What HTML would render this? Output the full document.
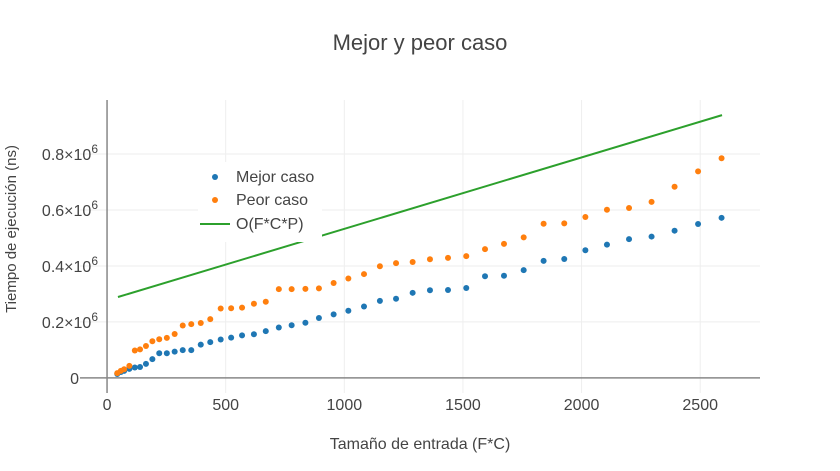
<!DOCTYPE html>
<html><head><meta charset="utf-8"><style>
body{margin:0;background:#fff;}
svg{display:block;font-family:"Liberation Sans",sans-serif;}
</style></head><body>
<svg id="chart" width="840" height="471" xmlns="http://www.w3.org/2000/svg">
<rect width="840" height="471" fill="#fff"/>
<text x="420" y="50" text-anchor="middle" font-size="22" fill="#444">Mejor y peor caso</text>
<g id="grid"></g>
<g id="axes"></g>
<g id="marks"></g>
<text x="420" y="449" text-anchor="middle" font-size="16" fill="#444">Tamaño de entrada (F*C)</text>
<text transform="translate(16,229) rotate(-90)" text-anchor="middle" font-size="15" fill="#444">Tiempo de ejecución (ns)</text>
<g id="legend">
<rect x="198" y="162" width="124" height="80" fill="#fff"/>
<circle cx="215" cy="177" r="3" fill="#1f77b4"/>
<text x="236" y="182" font-size="16" fill="#444">Mejor caso</text>
<circle cx="215" cy="200" r="3" fill="#ff7f0e"/>
<text x="236" y="205" font-size="16" fill="#444">Peor caso</text>
<line x1="200" y1="224" x2="230" y2="224" stroke="#2ca02c" stroke-width="2"/>
<text x="236" y="229" font-size="16" fill="#444">O(F*C*P)</text>
</g>
</svg>
<script>
const xs = [43,58,72,94,117,139,164,191,220,252,285,319,355,395,435,479,523,569,619,669,724,778,836,893,955,1017,1083,1150,1218,1288,1361,1437,1514,1593,1673,1756,1840,1927,2016,2107,2200,2295,2392,2491,2590];
const mejor = [14,21,25,32,37,39,50,67,88,88,94,99,99,119,128,137,144,152,156,167,180,188,197,214,227,240,255,275,283,304,313,314,321,363,365,385,418,425,456,476,496,505,526,550,572];
const peor = [17,25,31,43,98,102,114,131,138,143,157,187,192,196,210,248,249,251,265,272,317,317,318,320,339,355,371,399,410,414,424,429,435,460,479,502,551,552,575,601,607,629,683,738,785];
const lineX = [46,2592];
const lineY = [289,939];
const xTicks = [0,500,1000,1500,2000,2500];
const yTicks = [0,200,400,600,800];
const yTickLabels = ["0","0.2×10","0.4×10","0.6×10","0.8×10"];

const NS="http://www.w3.org/2000/svg";
const X0=80,X1=760,Y0=393,Y1=100;
const xMin=-114,xMax=2752,yMin=-54,yMax=993;
const sx=v=>X0+(v-xMin)/(xMax-xMin)*(X1-X0);
const sy=v=>Y0-(v-yMin)/(yMax-yMin)*(Y0-Y1);
function mk(tag,attrs,parent){const e=document.createElementNS(NS,tag);for(const k in attrs)e.setAttribute(k,attrs[k]);parent.appendChild(e);return e;}
const grid=document.getElementById('grid'),axes=document.getElementById('axes'),marks=document.getElementById('marks');

xTicks.forEach(t=>{
  if(t!==0){const g=mk('line',{x1:sx(t),x2:sx(t),y1:Y1,y2:Y0,stroke:'#eee','stroke-width':1},grid);
  
  }
  const l=mk('text',{x:sx(t),y:410,'text-anchor':'middle','font-size':16,fill:'#444'},axes);
  l.textContent=t;
  
  
});
yTicks.forEach((t,i)=>{
  if(t!==0){const g=mk('line',{x1:X0,x2:X1,y1:sy(t),y2:sy(t),stroke:'#eee','stroke-width':1},grid);
  
  }
  const l=mk('text',{x:(t===0?79:98),y:sy(t)+6,'text-anchor':'end','font-size':16,fill:'#444'},axes);
  
  
  if(t===0){l.textContent=yTickLabels[i];}
  else{l.textContent=yTickLabels[i];const s=mk('tspan',{dy:-7,'font-size':12},l);s.textContent='6';}
});
const zl=mk('line',{x1:X0,x2:X1,y1:sy(0),y2:sy(0),stroke:'#888','stroke-width':1.5},axes);


const ya=mk('line',{x1:sx(0),x2:sx(0),y1:Y1,y2:Y0,stroke:'#888','stroke-width':1.5},axes);



const ln=mk('line',{x1:sx(lineX[0]),y1:sy(lineY[0]),x2:sx(lineX[1]),y2:sy(lineY[1]),stroke:'#2ca02c','stroke-width':2},marks);


xs.forEach((x,i)=>{
  const c=mk('circle',{cx:sx(x),cy:sy(mejor[i]),r:3,fill:'#1f77b4'},marks);
  
  
});
xs.forEach((x,i)=>{
  const c=mk('circle',{cx:sx(x),cy:sy(peor[i]),r:3,fill:'#ff7f0e'},marks);
  
  
});
</script>
</body></html>
